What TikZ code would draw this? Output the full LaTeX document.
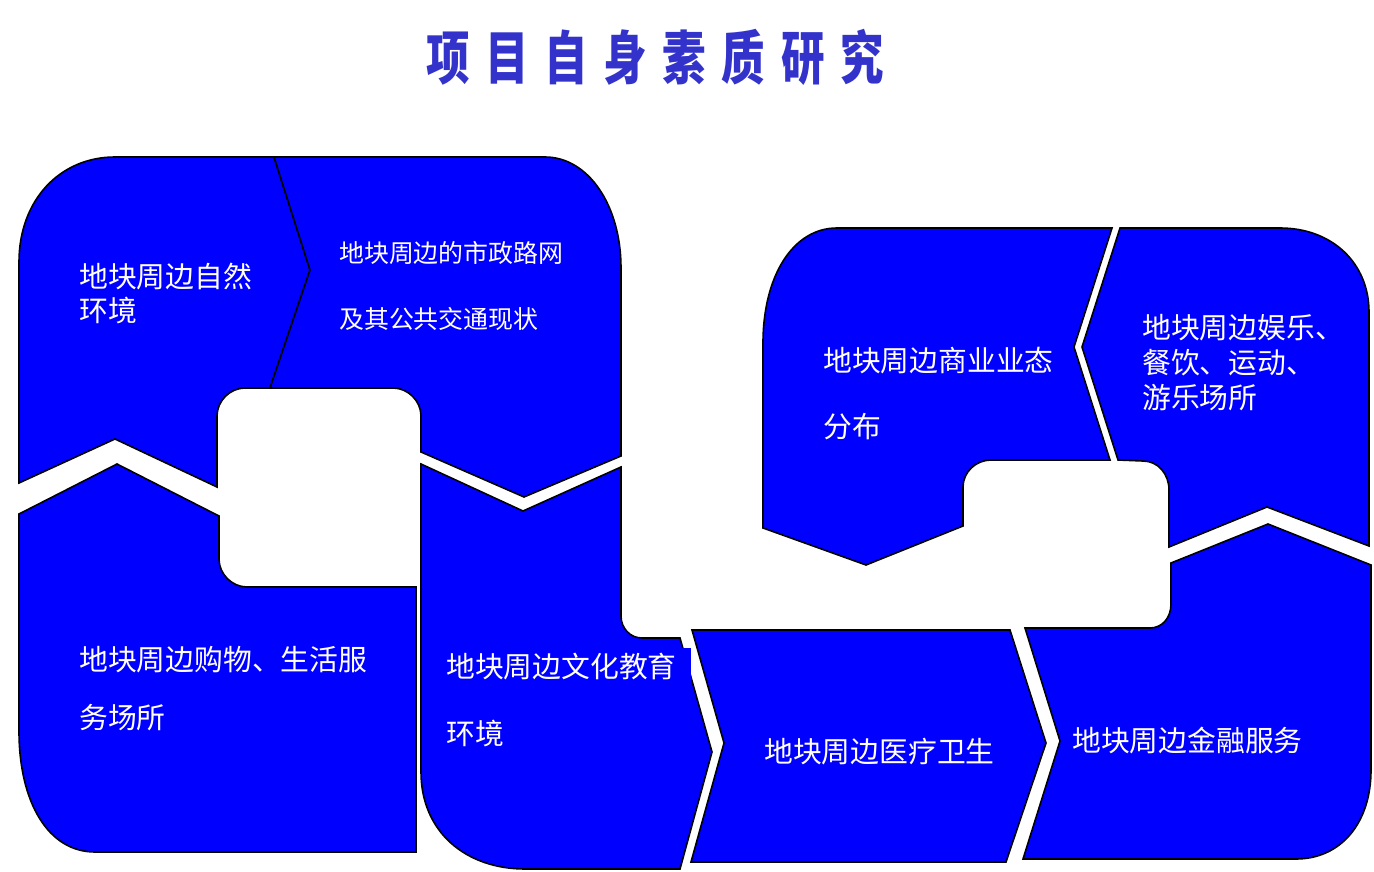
\documentclass[tikz,border=0pt]{standalone}
\usepackage{fontspec}
\newfontfamily\cjk{Noto Sans CJK SC}
\newfontfamily\titlefont[FakeStretch=0.75,LetterSpace=27]{Noto Sans CJK SC}
\definecolor{shapeblue}{RGB}{0,0,255}
\definecolor{titleblue}{RGB}{51,51,204}
\begin{document}
\begin{tikzpicture}[x=1pt,y=-1pt,
  piece/.style={fill=shapeblue, draw=black, line width=1.6pt, line join=miter},
  lbl/.style={text=white, font=\cjk\fontsize{28.8}{34}\selectfont, align=left, inner sep=0pt, anchor=west}]
\useasboundingbox (0,0) rectangle (1374,872);
% A
\draw[piece] (19,262) .. controls (19,200) and (60,157) .. (115,157) -- (274,157) -- (310,270) -- (270,388) -- (245,388) .. controls (230,388) and (217,401) .. (217,416) -- (217,487) -- (115,439) -- (19,483) -- cycle;
% B
\draw[piece] (274,157) -- (545,157) .. controls (588,157) and (621,205) .. (621,268) -- (621,456) -- (524,497) -- (421,452) -- (421,416) .. controls (421,401) and (408,388) .. (393,388) -- (270,388) -- (310,270) -- cycle;
% C
\draw[piece] (19,514) -- (117,464) -- (219,516) -- (219,559) .. controls (219,574) and (232,587) .. (247,587) -- (416,587) -- (416,852) -- (95,852) .. controls (48,852) and (19,802) .. (19,731) -- cycle;
% D
\draw[piece] (421,464) -- (523,511) -- (621,467) -- (621,616) .. controls (621,628) and (630,638) .. (642,638) -- (680,638) -- (712,752) -- (680,869) -- (525,869) .. controls (466,869) and (421,832) .. (421,772) -- cycle;
\fill[shapeblue] (440,648) rectangle (691,700);
% E
\draw[piece] (692,630) -- (1010,630) -- (1046,743) -- (1006,862) -- (691,862) -- (724,743) -- cycle;
% F
\draw[piece] (1025,628) -- (1150,628) .. controls (1162,628) and (1171,618) .. (1171,604) -- (1171,563) -- (1268,524) -- (1371,565) -- (1371,770) .. controls (1371,824) and (1340,859) .. (1296,859) -- (1023,859) -- (1060,741) -- cycle;
% G
\draw[piece] (763,343) .. controls (763,276) and (793,228) .. (837,228) -- (1112,228) -- (1074,347) -- (1110,460) -- (991,460) .. controls (976,460) and (963,472) .. (963,487) -- (963,526) -- (866,565) -- (763,528) -- cycle;
% H
\draw[piece] (1120,228) -- (1280,228) .. controls (1332,228) and (1369,263) .. (1369,312) -- (1369,546) -- (1267,507) -- (1169,547) -- (1169,490) .. controls (1169,474) and (1158,461) .. (1143,461) -- (1118,460) -- (1082,347) -- cycle;
% texts
\node[text=titleblue, font=\titlefont\bfseries\fontsize{58}{60}\selectfont, inner sep=0pt, anchor=west] (title) at (426,57) {项目自身素质研究};
\node[lbl] (tA) at (79,293) {地块周边自然\\环境};
\node[lbl, font=\cjk\fontsize{24.9}{66}\selectfont] (tB) at (339,286) {地块周边的市政路网\\及其公共交通现状};
\node[lbl, font=\cjk\fontsize{28.8}{58}\selectfont] (tC) at (79,689) {地块周边购物、生活服\\务场所};
\node[lbl, font=\cjk\fontsize{28.8}{67}\selectfont] (tD) at (446,700) {地块周边文化教育\\环境};
\node[lbl] (tE) at (764,752) {地块周边医疗卫生};
\node[lbl] (tF) at (1072,741) {地块周边金融服务};
\node[lbl, font=\cjk\fontsize{28.8}{66}\selectfont] (tG) at (823,394) {地块周边商业业态\\分布};
\node[lbl, font=\cjk\fontsize{28.8}{35}\selectfont] (tH) at (1142,363) {地块周边娱乐、\\餐饮、运动、\\游乐场所};
\end{tikzpicture}
\end{document}
